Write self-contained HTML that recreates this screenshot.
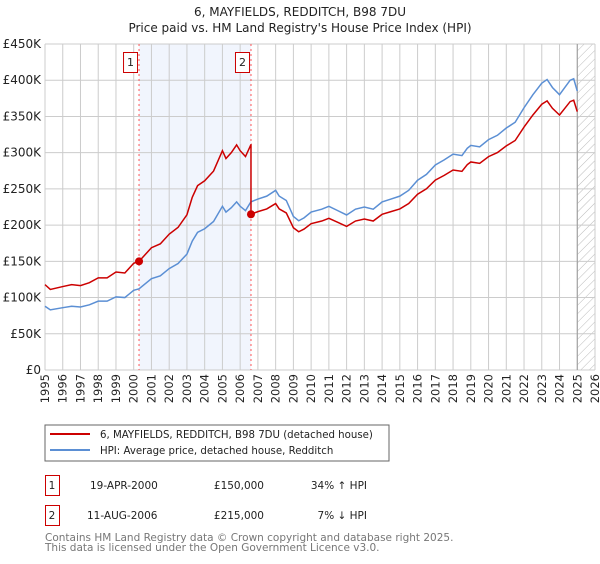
<!DOCTYPE html>
<html><head><meta charset="utf-8"><style>
body{margin:0;background:#fff;font-family:"DejaVu Sans","Liberation Sans",sans-serif;}
svg text{font-family:"DejaVu Sans","Liberation Sans",sans-serif;}
</style></head><body>
<svg id="c" width="600" height="560" xmlns="http://www.w3.org/2000/svg">
<defs><pattern id="hatch" width="6" height="6" patternUnits="userSpaceOnUse" patternTransform="rotate(45)"><line x1="0" y1="0" x2="0" y2="6" stroke="#bbb" stroke-width="1"/></pattern></defs>
<text x="300" y="16" text-anchor="middle" font-size="12" fill="#222">6, MAYFIELDS, REDDITCH, B98 7DU</text>
<text x="300" y="32" text-anchor="middle" font-size="12" fill="#222">Price paid vs. HM Land Registry's House Price Index (HPI)</text>
<g id="plot"></g>
<rect x="45" y="425" width="344" height="36" fill="#fff" stroke="#666"/>
<line x1="50" y1="434" x2="90" y2="434" stroke="#cc0000" stroke-width="2"/>
<text x="100" y="438" font-size="10.2" fill="#222">6, MAYFIELDS, REDDITCH, B98 7DU (detached house)</text>
<line x1="50" y1="450" x2="90" y2="450" stroke="#5b8fd4" stroke-width="2"/>
<text x="100" y="454" font-size="10.2" fill="#222">HPI: Average price, detached house, Redditch</text>
<g>
<rect x="45.5" y="475.5" width="14" height="20" fill="none" stroke="#cc0000"/>
<text x="52" y="489" text-anchor="middle" font-size="10.5" fill="#222">1</text>
<text x="90" y="489" font-size="10.5" fill="#222">19-APR-2000</text>
<text x="264" y="489" text-anchor="end" font-size="10.5" fill="#222">£150,000</text>
<text x="367" y="489" text-anchor="end" font-size="10.5" fill="#222">34% ↑ HPI</text></g>
<g>
<rect x="45.5" y="505.5" width="14" height="20" fill="none" stroke="#cc0000"/>
<text x="52" y="519" text-anchor="middle" font-size="10.5" fill="#222">2</text>
<text x="87" y="519" font-size="10.5" fill="#222">11-AUG-2006</text>
<text x="264" y="519" text-anchor="end" font-size="10.5" fill="#222">£215,000</text>
<text x="367" y="519" text-anchor="end" font-size="10.5" fill="#222">7% ↓ HPI</text></g>
<text x="45" y="541" font-size="10.5" fill="#777">Contains HM Land Registry data © Crown copyright and database right 2025.</text>
<text x="45" y="551" font-size="10.5" fill="#777">This data is licensed under the Open Government Licence v3.0.</text>
</svg>
<script>
const hpiYears=[1995,1995.3,1996,1996.5,1997,1997.5,1998,1998.5,1999,1999.5,2000,2000.3,2001,2001.5,2002,2002.5,2003,2003.3,2003.6,2004,2004.5,2005,2005.2,2005.5,2005.8,2006,2006.3,2006.6,2007,2007.5,2008,2008.2,2008.6,2009,2009.3,2009.6,2010,2010.6,2011,2011.5,2012,2012.5,2013,2013.5,2014,2014.5,2015,2015.5,2016,2016.5,2017,2017.5,2018,2018.5,2018.8,2019,2019.5,2020,2020.5,2021,2021.5,2022,2022.5,2023,2023.3,2023.6,2024,2024.3,2024.6,2024.8,2025];
const hpiValues=[88,83,86,88,87,90,95,95,101,100,110,112,126,130,140,147,160,178,190,195,205,226,218,224,232,226,220,232,236,240,248,240,234,212,206,210,218,222,226,220,214,222,225,222,232,236,240,248,262,270,283,290,298,296,306,310,308,318,324,334,342,362,380,396,401,390,380,390,400,402,385];
const saleDates=[2000.3,2006.61];
const salePrices=[150,215];
const yTicks=[0,50,100,150,200,250,300,350,400,450];
const yTickLabels=["£0","£50K","£100K","£150K","£200K","£250K","£300K","£350K","£400K","£450K"];
const xTicks=[1995,1996,1997,1998,1999,2000,2001,2002,2003,2004,2005,2006,2007,2008,2009,2010,2011,2012,2013,2014,2015,2016,2017,2018,2019,2020,2021,2022,2023,2024,2025,2026];
const X0=45,X1=595,Y0=370,Y1=44,dataEnd=2025;
const xs=v=>X0+(v-1995)/(2026-1995)*(X1-X0);
const ys=v=>Y0-v/450*(Y0-Y1);
const NS="http://www.w3.org/2000/svg";
const g=document.getElementById('plot');
function mk(t,a,name){const e=document.createElementNS(NS,t);for(const k in a)e.setAttribute(k,a[k]);


g.appendChild(e);return e;}
function hpiAt(t){for(let i=1;i<hpiYears.length;i++){if(t<=hpiYears[i]){const f=(t-hpiYears[i-1])/(hpiYears[i]-hpiYears[i-1]);return hpiValues[i-1]+f*(hpiValues[i]-hpiValues[i-1]);}}return hpiValues[hpiValues.length-1];}
mk('rect',{x:xs(saleDates[0]),y:Y1,width:xs(saleDates[1])-xs(saleDates[0]),height:Y0-Y1,fill:'#eef3fc',opacity:0.8},'sale-period-band');
mk('rect',{x:xs(dataEnd),y:Y1,width:X1-xs(dataEnd),height:Y0-Y1,fill:'url(#hatch)'},'future-hatch');
yTicks.forEach((v,i)=>{mk('line',{x1:X0,x2:X1,y1:ys(v),y2:ys(v),stroke:'#ccc'},'y-gridline');
const t=mk('text',{x:X0-4,y:ys(v)+4,'text-anchor':'end','font-size':12,fill:'#222'},'y-tick-label');t.textContent=yTickLabels[i];});
xTicks.forEach(v=>{mk('line',{x1:xs(v),x2:xs(v),y1:Y1,y2:Y0,stroke:'#ccc'},'x-gridline');
const t=mk('text',{transform:`translate(${xs(v)+4},${Y0+4}) rotate(-90)`,'text-anchor':'end','font-size':11.5,fill:'#222'},'x-tick-label');t.textContent=v;});
mk('line',{x1:xs(dataEnd),x2:xs(dataEnd),y1:Y1,y2:Y0,stroke:'#999'},'data-end-line');
saleDates.forEach((d,i)=>{mk('line',{x1:xs(d),x2:xs(d),y1:Y1,y2:Y0,stroke:'#f55','stroke-dasharray':'2,3'},'sale-marker-line');
mk('rect',{x:xs(d)-15.5,y:52.5,width:14,height:20,fill:'#fff',stroke:'#cc0000'},'sale-label-box');
const t=mk('text',{x:xs(d)-8.5,y:66,'text-anchor':'middle','font-size':11,fill:'#222'},'sale-label');t.textContent=i+1;});
mk('polyline',{points:hpiYears.map((y,i)=>xs(y)+','+ys(hpiValues[i])).join(' '),fill:'none',stroke:'#5b8fd4','stroke-width':1.5},'hpi-line');
const r1=salePrices[0]/hpiAt(saleDates[0]),r2=salePrices[1]/hpiAt(saleDates[1]);
let pts=[];
hpiYears.forEach((y,i)=>{if(y<saleDates[1])pts.push([y,hpiValues[i]*r1]);});
pts.push([saleDates[1],hpiAt(saleDates[1])*r1]);pts.push([saleDates[1],salePrices[1]]);
hpiYears.forEach((y,i)=>{if(y>saleDates[1])pts.push([y,hpiValues[i]*r2]);});
mk('polyline',{points:pts.map(p=>xs(p[0])+','+ys(p[1])).join(' '),fill:'none',stroke:'#cc0000','stroke-width':1.5},'property-price-line');
saleDates.forEach((d,i)=>mk('circle',{cx:xs(d),cy:ys(salePrices[i]),r:4,fill:'#cc0000'},'sale-point'));
</script>
</body></html>
